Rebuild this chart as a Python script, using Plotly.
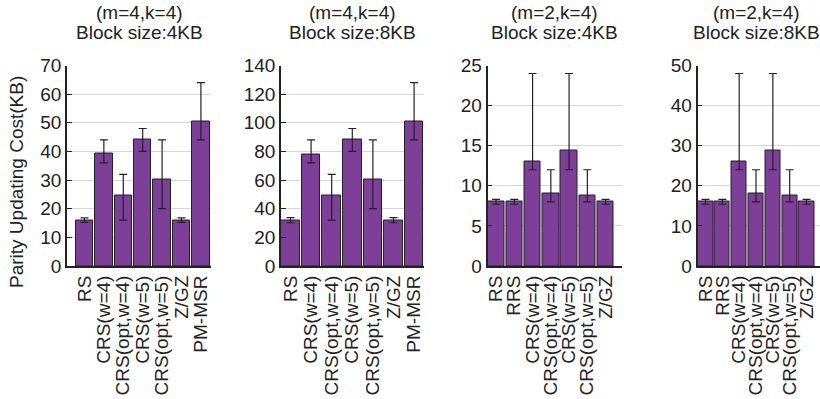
import plotly.graph_objects as go

# ---- data ----
cats_a = ["RS", "CRS(w=4)", "CRS(opt,w=4)", "CRS(w=5)", "CRS(opt,w=5)", "Z/GZ", "PM-MSR"]
cats_b = ["RS", "RRS", "CRS(w=4)", "CRS(opt,w=4)", "CRS(w=5)", "CRS(opt,w=5)", "Z/GZ"]

p1_val = [16, 39.3, 24.7, 44.3, 30.3, 16, 50.6]
p1_lo = [15.2, 36, 16, 40, 20, 15.2, 44]
p1_hi = [16.8, 44, 32, 48, 44, 16.8, 64]

p2_val = [32, 78, 49, 88, 60.5, 32, 101]
p2_lo = [30.2, 72, 32, 80, 40, 30.2, 88]
p2_hi = [33.8, 88, 64, 96, 88, 33.8, 128]

p3_val = [8, 8, 13, 9, 14.4, 8.8, 8]
p3_lo = [7.7, 7.7, 12, 8, 12, 8, 7.7]
p3_hi = [8.3, 8.3, 24, 12, 24, 12, 8.3]

p4_val = [16, 16, 26.1, 18, 28.8, 17.6, 16]
p4_lo = [15.4, 15.4, 24, 16, 24, 16, 15.4]
p4_hi = [16.6, 16.6, 48, 24, 48, 24, 16.6]

titles = [("(m=4,k=4)", "Block size:4KB"), ("(m=4,k=4)", "Block size:8KB"),
          ("(m=2,k=4)", "Block size:4KB"), ("(m=2,k=4)", "Block size:8KB")]
y_max = [70, 140, 25, 50]
y_dtick = [10, 20, 5, 10]
y_title = "Parity Updating Cost(KB)"

# ---- layout geometry (pixels in 820x399 canvas) ----
W, H = 820, 399
x_dom_px = [(67, 211), (281, 424), (487.5, 622), (697.5, 820)]
title_cx_px = [139, 352.5, 554.5, 756]
x_ranges = [(-0.90, 6.52), (-0.46, 6.48), (-0.47, 6.9), (-0.475, 6.8)]
y_dom = [(H - 266) / H, (H - 65.5) / H]

FONT = "Liberation Sans, Arial, sans-serif"
FS = 19
BAR = "#7D3F98"
DARK = "#222222"

panels = [(cats_a, p1_val, p1_lo, p1_hi), (cats_a, p2_val, p2_lo, p2_hi),
          (cats_b, p3_val, p3_lo, p3_hi), (cats_b, p4_val, p4_lo, p4_hi)]

fig = go.Figure()
annotations = []
for i, (cats, val, lo, hi) in enumerate(panels):
    n = i + 1
    xa = "x" if n == 1 else f"x{n}"
    ya = "y" if n == 1 else f"y{n}"
    fig.add_trace(go.Bar(
        x=list(range(len(cats))), y=val, xaxis=xa, yaxis=ya, width=0.9,
        marker=dict(color=BAR, line=dict(color=DARK, width=1)),
        error_y=dict(type="data", symmetric=False,
                     array=[h - v for h, v in zip(hi, val)],
                     arrayminus=[v - l for v, l in zip(val, lo)],
                     color=DARK, thickness=1.2, width=4),
        showlegend=False, hoverinfo="skip"))
    d0, d1 = x_dom_px[i]
    fig.layout[f"xaxis{'' if n == 1 else n}"] = dict(
        domain=[d0 / W, d1 / W], range=list(x_ranges[i]), anchor=ya,
        tickmode="array", tickvals=list(range(len(cats))), ticktext=cats,
        tickangle=-90, ticks="", showgrid=False, zeroline=False,
        showline=True, linecolor=DARK, linewidth=2, automargin=False,
        tickfont=dict(family=FONT, size=FS, color=DARK), fixedrange=True)
    fig.layout[f"yaxis{'' if n == 1 else n}"] = dict(
        domain=y_dom, range=[0, y_max[i]], anchor=xa, dtick=y_dtick[i],
        ticks="inside", ticklen=5, tickcolor=DARK, tickwidth=1,
        showgrid=True, gridcolor="#d6d6d6", gridwidth=1, zeroline=False,
        showline=True, linecolor=DARK, linewidth=1.5, automargin=False,
        tickfont=dict(family=FONT, size=FS, color=DARK), fixedrange=True)
    cx = title_cx_px[i] / W
    annotations.append(dict(text=titles[i][0], x=cx, y=1 - 13 / H, xref="paper", yref="paper",
                            xanchor="center", yanchor="middle", showarrow=False,
                            font=dict(family=FONT, size=FS, color=DARK)))
    annotations.append(dict(text=titles[i][1], x=cx, y=1 - 32 / H, xref="paper", yref="paper",
                            xanchor="center", yanchor="middle", showarrow=False,
                            font=dict(family=FONT, size=FS, color=DARK)))

annotations.append(dict(text=y_title, x=16 / W, y=1 - 182 / H, xref="paper", yref="paper",
                        xanchor="center", yanchor="middle", textangle=-90, showarrow=False,
                        font=dict(family=FONT, size=FS, color=DARK)))

fig.update_layout(width=W, height=H, margin=dict(l=0, r=0, t=0, b=0, autoexpand=False),
                  paper_bgcolor="white", plot_bgcolor="white",
                  annotations=annotations, bargap=0)
fig.write_html("out.html", config={"displayModeBar": False},
               post_script="document.body.style.margin='0';")
